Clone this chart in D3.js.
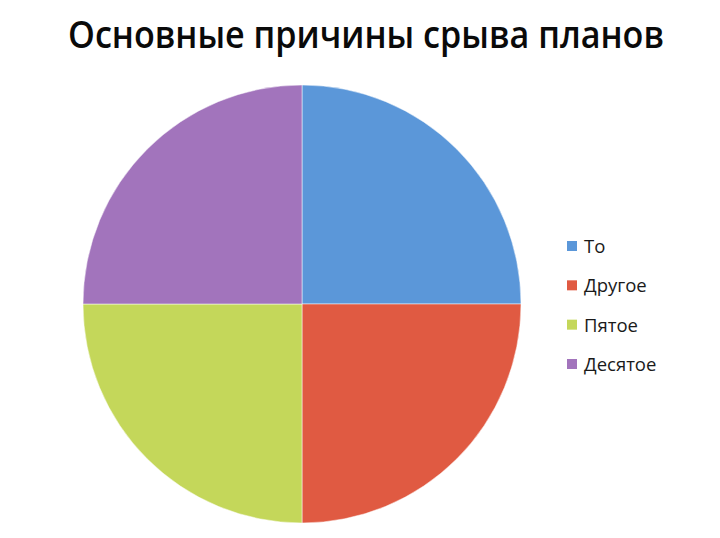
<!DOCTYPE html>
<html><head><meta charset="utf-8">
<script src="https://cdn.jsdelivr.net/npm/d3@7"></script>
<style>body{margin:0;background:#fff}</style>
</head><body>
<svg id="c" width="720" height="538"></svg>
<script>
const title = "Основные причины срыва планов";
const categories = ["То", "Другое", "Пятое", "Десятое"];
const values = [25, 25, 25, 25];
const colors = ["#5b97d9", "#e05a42", "#c4d75a", "#a274bc"];

const svg = d3.select("#c");
svg.append("rect").attr("width",720).attr("height",538).attr("fill","#fff");

svg.append("text").attr("x",366).attr("y",48).attr("text-anchor","middle")
  .attr("font-family","Open Sans, sans-serif").attr("font-weight",600)
  .attr("font-size",37).attr("fill","#0a0a0a")
  .attr("textLength",596).attr("lengthAdjust","spacingAndGlyphs")
  .text(title);

const cx = 302, cy = 304, r = 219;
const pie = d3.pie().sort(null).value(d=>d);
const arc = d3.arc().innerRadius(0).outerRadius(r);
const color = d3.scaleOrdinal().domain(categories).range(colors);
const g = svg.append("g").attr("transform",`translate(${cx},${cy})`);
g.selectAll("path").data(pie(values)).join("path")
  .attr("d",arc).attr("fill",(d,i)=>color(categories[i]))
  .attr("stroke","#fff").attr("stroke-width",0.5);

const ly = d3.scalePoint().domain(categories).range([246,364]);
const lg = svg.append("g");
categories.forEach(c=>{
  lg.append("rect").attr("x",567).attr("y",ly(c)-5).attr("width",10).attr("height",10).attr("fill",color(c));
  lg.append("text").attr("x",584).attr("y",ly(c)+7).attr("font-family","Open Sans, sans-serif")
    .attr("font-size",18.5).attr("fill","#1a1a1a").text(c);
});
</script>
</body></html>
